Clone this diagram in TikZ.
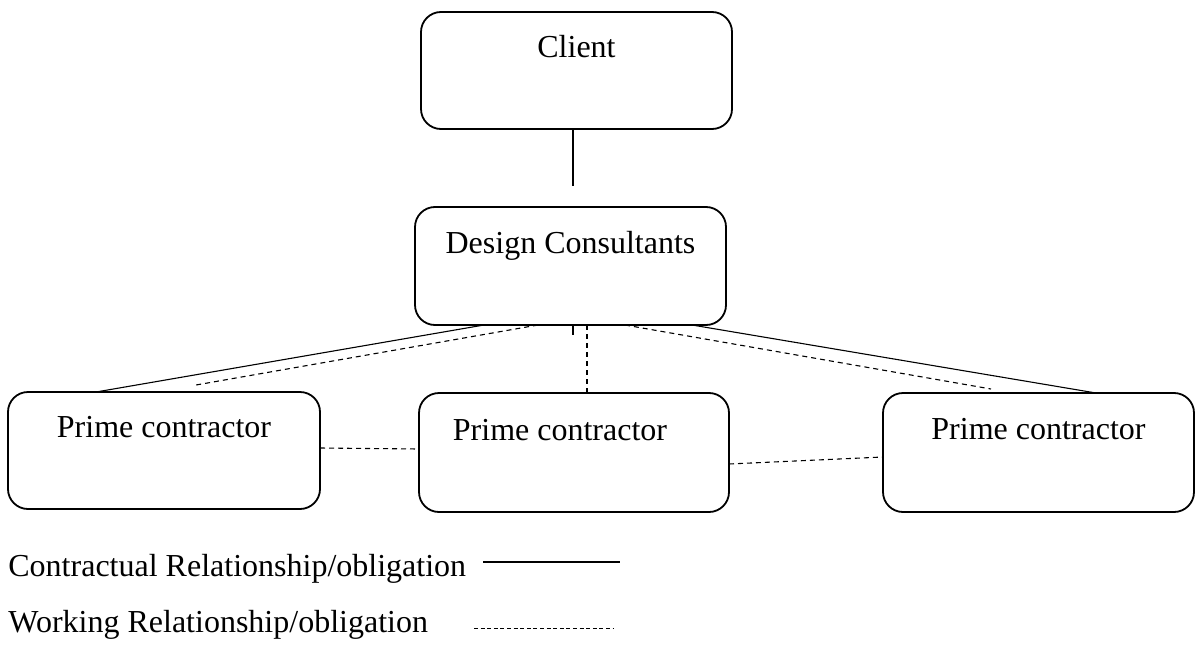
\documentclass[tikz,border=0pt]{standalone}
\usepackage{fontspec}
\setmainfont{Liberation Serif}
\begin{document}
\begin{tikzpicture}[x=0.5pt,y=-0.5pt,
  box/.style={draw, line width=0.9pt, rounded corners=10pt, inner sep=0pt, outer sep=0pt},
  txt/.style={anchor=base, inner sep=0pt, font=\fontsize{16}{19}\selectfont},
  rel/.style={line width=0.55pt},
  work/.style={line width=0.55pt, dash pattern=on 2.5pt off 2pt},
  workleg/.style={line width=0.5pt, dash pattern=on 2pt off 1.3pt}]
\useasboundingbox (0,0) rectangle (1198,658);
% boxes
\node[box, minimum width=155.5pt, minimum height=58.5pt] (client) at (576.5,70.5) {};
\node[box, minimum width=155.5pt, minimum height=59pt] (dc) at (570.5,266) {};
\node[box, minimum width=156pt, minimum height=58.5pt] (pc1) at (164,450.5) {};
\node[box, minimum width=155pt, minimum height=59.5pt] (pc2) at (574,452.5) {};
\node[box, minimum width=155.5pt, minimum height=59.5pt] (pc3) at (1038.5,452.5) {};
% texts
\node[txt] (tclient) at ([yshift=-22.75pt]client.north) {Client};
\node[txt] (tdc) at ([yshift=-23pt]dc.north) {Design Consultants};
\node[txt] (tpc1) at ([yshift=-22.5pt]pc1.north) {Prime contractor};
\node[txt] (tpc2) at ([xshift=-7pt,yshift=-23.5pt]pc2.north) {Prime contractor};
\node[txt] (tpc3) at ([yshift=-23pt]pc3.north) {Prime contractor};
% free ends
\coordinate (cd) at (573,186);
\coordinate (dl) at (196,385);
\coordinate (tk) at (573,335);
\coordinate (dr) at (991,389);
% connectors
\draw[rel] (client.south -| cd) -- (cd);
\draw[rel] ([xshift=-43.25pt]dc.south) -- ([xshift=-34pt]pc1.north);
\draw[work] ([xshift=-16.25pt]dc.south) -- (dl);
\draw[rel] (dc.south -| tk) -- (tk);
\draw[work] ([xshift=8.25pt]dc.south) -- ([xshift=6.5pt]pc2.north);
\draw[work] ([xshift=27.25pt]dc.south) -- (dr);
\draw[rel] ([xshift=60.75pt]dc.south) -- ([xshift=28.75pt]pc3.north);
\draw[work] ([yshift=1.25pt]pc1.east) -- ([yshift=1.75pt]pc2.west);
\draw[work] ([yshift=-5.75pt]pc2.east) -- ([yshift=-2.25pt]pc3.west);
% legend
\node[txt, anchor=base west] (lc) at (8,576) {Contractual Relationship/obligation};
\node[txt, anchor=base west] (lw) at (8,632) {Working Relationship/obligation};
\coordinate (ls1) at (483,562);
\coordinate (ls2) at (620,562);
\coordinate (lw1) at (474,628);
\coordinate (lw2) at (613,628);
\draw[rel] (ls1) -- (ls2);
\draw[workleg] (lw1) -- (lw2);
\end{tikzpicture}
\end{document}
